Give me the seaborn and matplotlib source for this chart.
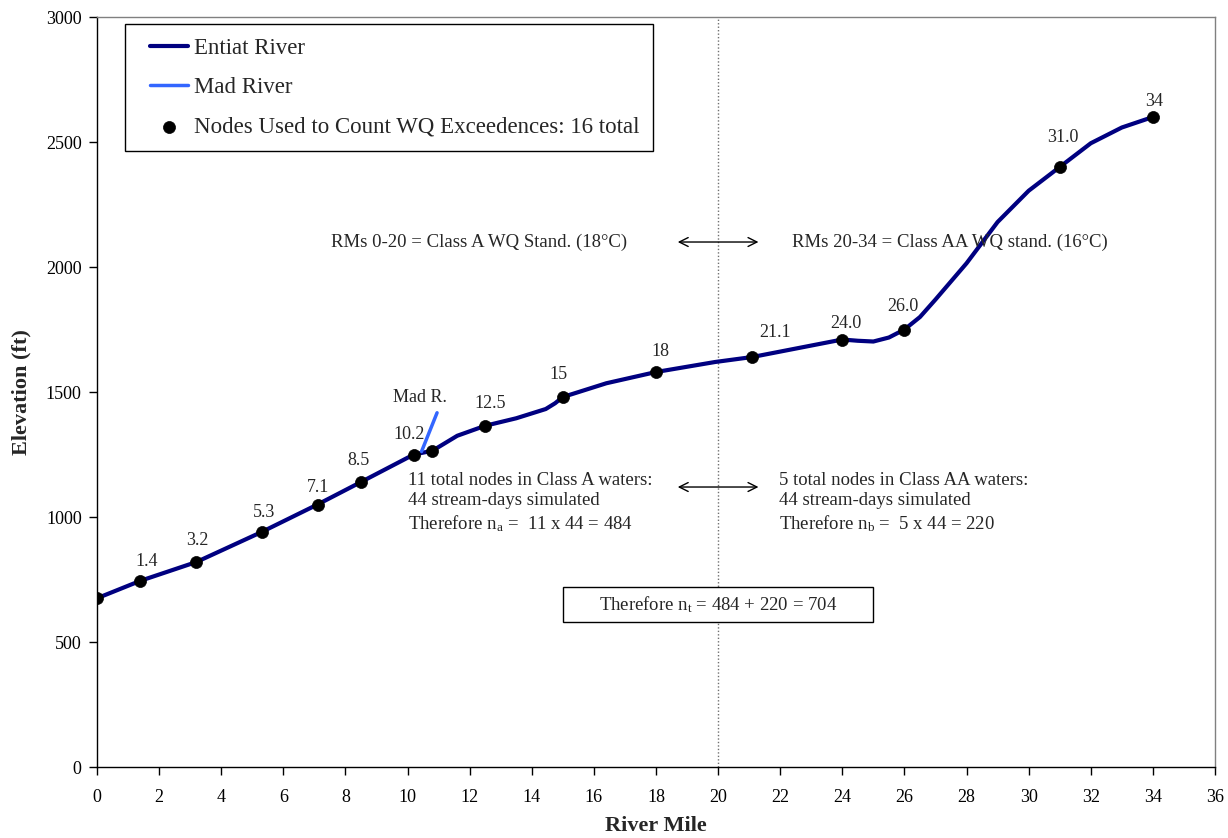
import matplotlib
matplotlib.use("Agg")
import matplotlib.pyplot as plt
from matplotlib.patches import Rectangle
from matplotlib.lines import Line2D
from matplotlib.collections import PathCollection
from matplotlib.legend_handler import HandlerLine2D, HandlerPathCollection
import seaborn as sns
import pandas as pd

# ---------------- data ----------------
profile_rm = [0, 1.4, 3.2, 5.3, 7.1, 8.5, 10.2, 10.8, 11.6, 12.5, 13.5, 14.45, 14.75,
              15, 16.4, 18, 19.9, 21.1, 24.0, 24.5, 25.0, 25.5, 26.0, 26.5, 27.0, 28.0,
              29.0, 30.0, 31.0, 32.0, 33.0, 34]
profile_elev = [675, 745, 820, 940, 1050, 1140, 1250, 1265, 1325, 1365, 1395, 1432, 1455,
                1480, 1535, 1580, 1620, 1640, 1710, 1705, 1702, 1718, 1750, 1800, 1870, 2015,
                2180, 2305, 2400, 2495, 2558, 2600]

node_rm = [0, 1.4, 3.2, 5.3, 7.1, 8.5, 10.2, 10.8, 12.5, 15, 18, 21.1, 24.0, 26.0, 31.0, 34]
node_elev = [675, 745, 820, 940, 1050, 1140, 1250, 1265, 1365, 1480, 1580, 1640, 1710,
             1750, 2400, 2600]
node_labels = ["", "1.4", "3.2", "5.3", "7.1", "8.5", "10.2", "", "12.5", "15", "18",
               "21.1", "24.0", "26.0", "31.0", "34"]

mad_rm = [10.45, 10.95]
mad_elev = [1262, 1417]

x_ticks = list(range(0, 37, 2))
y_ticks = list(range(0, 3001, 500))

series_names = ["Entiat River", "Mad River",
                "Nodes Used to Count WQ Exceedences: 16 total"]

# label offsets in pixels (dx, dy) relative to node
label_offsets_px = [(0, 0), (6, 19), (1, 22), (2, 20), (1, 17), (-2, 22), (-5, 20), (0, 0),
                    (5, 22), (-4, 23), (4, 21), (23, 25), (4, 16), (-2, 23), (3, 30), (1, 16)]

# ---------------- style ----------------
sns.set_style("ticks")
plt.rcParams['font.family'] = ['Liberation Serif', 'DejaVu Serif']
plt.rcParams['mathtext.fontset'] = 'custom'
plt.rcParams['mathtext.rm'] = 'Liberation Serif'
plt.rcParams['mathtext.it'] = 'Liberation Serif:italic'
plt.rcParams['mathtext.bf'] = 'Liberation Serif:bold'

fig = plt.figure(figsize=(12.28, 8.38), dpi=100)
fig.patch.set_facecolor('white')
ax = fig.add_axes([0.079, 0.0847, 0.9104, 0.895])

prof = pd.DataFrame({"rm": profile_rm, "elev": profile_elev})
nodes = pd.DataFrame({"rm": node_rm, "elev": node_elev})
mad = pd.DataFrame({"rm": mad_rm, "elev": mad_elev})

ax.axvline(20, color='#707070', lw=1.0, ls=(0, (1, 1.5)), zorder=1)

sns.lineplot(data=prof, x="rm", y="elev", color='#000080', lw=3, ax=ax,
             label=series_names[0], sort=False, zorder=3)
sns.lineplot(data=mad, x="rm", y="elev", color='#3366FF', lw=2.5, ax=ax,
             label=series_names[1], sort=False, zorder=3)
sns.scatterplot(data=nodes, x="rm", y="elev", color='black', s=75, edgecolor='black',
                linewidth=0.5, ax=ax, label=series_names[2], zorder=5)

ax.set_xlim(0, 36)
ax.set_ylim(0, 3000)
ax.set_xticks(x_ticks)
ax.set_yticks(y_ticks)
ax.tick_params(direction='out', length=6, width=1, labelsize=13, colors='black')
ax.tick_params(axis='x', pad=10)
ax.tick_params(axis='y', pad=5)
for s in ['left', 'bottom']:
    ax.spines[s].set_color('black')
    ax.spines[s].set_linewidth(1.0)
for s in ['top', 'right']:
    ax.spines[s].set_color('#808080')
    ax.spines[s].set_linewidth(1.0)

ax.set_xlabel("River Mile", fontsize=16, fontweight='bold', labelpad=7)
ax.set_ylabel("Elevation (ft)", fontsize=16, fontweight='bold', labelpad=10)

# node labels
for x, y, lab, (dx, dy) in zip(node_rm, node_elev, node_labels, label_offsets_px):
    if lab:
        ax.annotate(lab, (x, y), xytext=(dx * 0.72, dy * 0.72), textcoords='offset points',
                    ha='center', va='center', fontsize=13)

ax.text(10.4, 1480, "Mad R.", ha='center', va='center', fontsize=13)

# annotations
fs = 13.5
ax.text(12.3, 2100, "RMs 0-20 = Class A WQ Stand. (18°C)", ha='center', va='center', fontsize=fs)
ax.text(27.45, 2100, "RMs 20-34 = Class AA WQ stand. (16°C)", ha='center', va='center', fontsize=fs)
for yy in (2100, 1120):
    ax.annotate("", xy=(18.7, yy), xytext=(21.3, yy),
                arrowprops=dict(arrowstyle='<->', color='black', lw=1.0,
                                shrinkA=0, shrinkB=0, mutation_scale=16))

ax.text(10.0, 1180, "11 total nodes in Class A waters:\n44 stream-days simulated\n"
        r"Therefore n$\mathregular{_a}$ =  11 x 44 = 484",
        ha='left', va='top', fontsize=fs, linespacing=1.25)
ax.text(21.95, 1180, "5 total nodes in Class AA waters:\n44 stream-days simulated\n"
        r"Therefore n$\mathregular{_b}$ =  5 x 44 = 220",
        ha='left', va='top', fontsize=fs, linespacing=1.25)

ax.add_patch(Rectangle((15.0, 580), 10.0, 140, facecolor='white', edgecolor='black',
                       lw=1.0, zorder=4))
ax.text(20.0, 650, r"Therefore n$\mathregular{_t}$ = 484 + 220 = 704", ha='center',
        va='center', fontsize=fs, zorder=6)

leg = ax.legend(loc='upper left', bbox_to_anchor=(0.025, 0.9907), borderaxespad=0,
                fontsize=16.5, frameon=True, fancybox=False, edgecolor='black',
                framealpha=1, handlelength=2.15, handletextpad=0.25, labelspacing=0.8,
                borderpad=0.6,
                handler_map={Line2D: HandlerLine2D(xpad=0.5),
                             PathCollection: HandlerPathCollection(xpad=0.5)})
leg.get_frame().set_linewidth(1.0)

fig.savefig("out.png", dpi=100, facecolor='white')
